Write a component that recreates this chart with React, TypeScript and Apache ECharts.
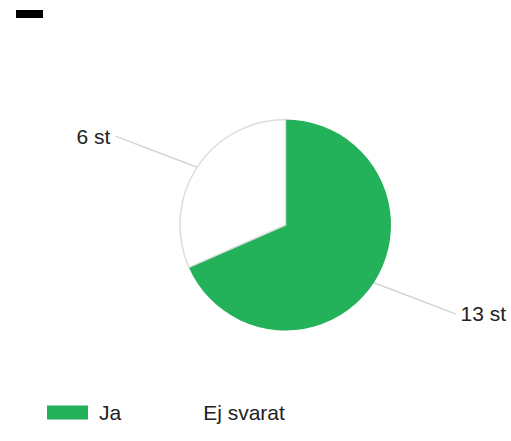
import React, { useEffect, useRef } from "react";
import * as echarts from "echarts";

const categories = ["Ja", "Ej svarat"];
const values = [13, 6];
const colors = ["#23B15A", "#FFFFFF"];
const unit = " st";

export default function App() {
  const ref = useRef<HTMLDivElement>(null);
  useEffect(() => {
    if (!ref.current) return;
    const chart = echarts.init(ref.current, null, { renderer: "svg" });
    chart.setOption({
      animation: false,
      backgroundColor: "#FFFFFF",
      graphic: [
        { type: "rect", shape: { x: 16, y: 10, width: 27, height: 8 }, style: { fill: "#000" } },
      ],
      legend: {
        left: 42,
        top: 397,
        icon: "rect",
        itemWidth: 41,
        itemHeight: 14,
        itemGap: 30,
        itemStyle: { borderWidth: 0 },
        textStyle: {
          fontFamily: "Liberation Sans, Arial",
          fontSize: 21,
          color: "#222",
          padding: [0, 0, 0, 6],
        },
        data: categories,
      },
      series: [
        {
          type: "pie",
          center: [285.5, 225],
          radius: [0, 105.5],
          startAngle: 90,
          clockwise: true,
          avoidLabelOverlap: false,
          data: categories.map((c, i) => ({
            name: c,
            value: values[i],
            itemStyle: {
              color: colors[i],
              borderColor: i === 1 ? "#DDDDDD" : colors[i],
              borderWidth: i === 1 ? 1.5 : 0,
            },
          })),
          label: {
            show: true,
            formatter: (p: any) => p.value + unit,
            fontFamily: "Liberation Sans, Arial",
            fontSize: 21,
            color: "#222",
          },
          labelLine: {
            show: true,
            length: 57,
            length2: 34,
            lineStyle: { color: "#D5D5D5", width: 1.5 },
          },
          labelLayout: (params: any) => {
            const pts = params.labelLinePoints;
            if (!pts || pts.length < 3) return {};
            const a = pts[0];
            const b = pts[pts.length - 1];
            return {
              labelLinePoints: [a, [(a[0] + b[0]) / 2, (a[1] + b[1]) / 2], b],
            };
          },
          emphasis: { disabled: true },
        },
      ],
    });
    return () => chart.dispose();
  }, []);
  return (
    <div
      ref={ref}
      style={{ position: "fixed", left: 0, top: 0, width: 511, height: 441 }}
    />
  );
}
